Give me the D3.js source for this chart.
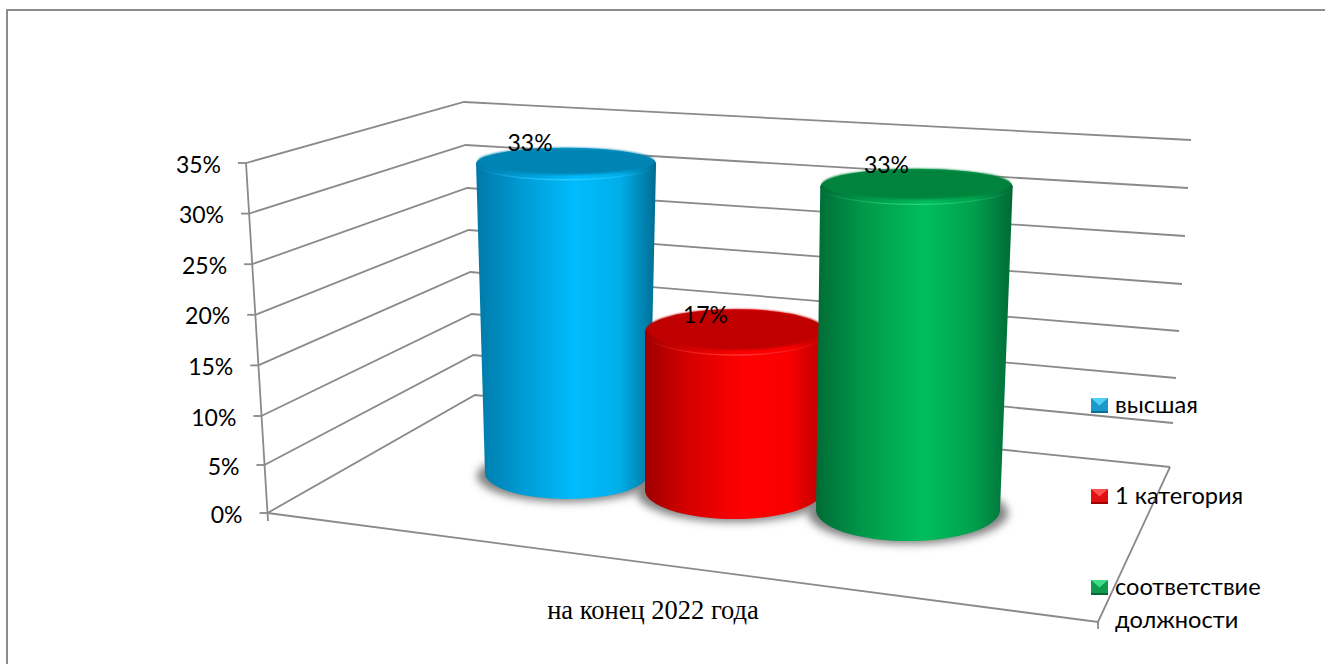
<!DOCTYPE html>
<html>
<head>
<meta charset="utf-8">
<script src="https://cdn.jsdelivr.net/npm/d3@7"></script>
<style>
  html, body { margin: 0; padding: 0; background: #fff; overflow: hidden; }
  text { fill: #000; }
  .sans { font-family: "Lato", "Noto Sans", sans-serif; }
</style>
</head>
<body>
<script>
// data
const categories = ["на конец 2022 года"]
const seriesNames = [["высшая"], ["1 категория"], ["соответствие", "должности"]]
const seriesValues = [33, 17, 33]
const tickValues = [0, 5, 10, 15, 20, 25, 30, 35]
const axisMax = 35

// colours per series
const capColors = ["#0084b4", "#c00000", "#00843c"]
const rimColors = ["#30d0ff", "#ff4040", "#30d880"]
const bodyStops = [
  ["#0079a8", "#009ad2", "#00bcff", "#00aee8", "#006d94"],
  ["#a00000", "#d80000", "#ff0000", "#f80000", "#b80000"],
  ["#006c36", "#009a4a", "#00be5c", "#00a04e", "#006a36"]
]
const stopOffsets = [0, 0.25, 0.55, 0.8, 1]
const markerColors = [
  ["#1b9ac9", "#4fd0f5", "#0b6f96"],
  ["#e01010", "#ff5050", "#9c0000"],
  ["#0f9a50", "#3fdc88", "#06663a"]
]

const width = 1325, height = 664

const svg = d3.select("body").append("svg")
  .attr("width", width)
  .attr("height", height)
  .style("display", "block")

const defs = svg.append("defs")

// soft edges for shadows and caps
defs.append("filter").attr("id", "shadowBlur")
  .attr("x", "-20%").attr("y", "-40%").attr("width", "140%").attr("height", "180%")
  .append("feGaussianBlur").attr("stdDeviation", 4)
defs.append("filter").attr("id", "capBlur")
  .attr("x", "-5%").attr("y", "-10%").attr("width", "110%").attr("height", "120%")
  .append("feGaussianBlur").attr("stdDeviation", 0.9)

// outer frame, only left and top are on the picture
svg.append("path")
  .attr("d", d3.line()([[7, height], [7, 10], [width, 10]]))
  .attr("fill", "none")
  .attr("stroke", "#8c8c8c")
  .attr("stroke-width", 2)

// the three vertical edges of the box, value -> position
const frontX = d3.scaleLinear().domain([0, axisMax]).range([267.5, 246])
const frontY = d3.scaleLinear().domain([0, 5, 10, axisMax]).range([513, 465, 416, 163])
const backLeftX = d3.scaleLinear().domain([0, axisMax]).range([475, 464])
const backLeftY = d3.scaleLinear().domain(tickValues).range([395, 355, 314, 272, 230, 188, 145, 102])
const backRightX = d3.scaleLinear().domain([0, axisMax]).range([1170, 1191])
const backRightY = d3.scaleLinear().domain(tickValues).range([467, 423, 378, 331, 284, 236, 188, 140])

const axisColor = "#8a8a8a"
const line = d3.line()
const walls = svg.append("g")
  .attr("fill", "none")
  .attr("stroke", axisColor)
  .attr("stroke-width", 1.8)

// walls gridlines
walls.selectAll(".grid")
  .data(tickValues)
  .join("path")
  .attr("class", "grid")
  .attr("d", (d) => line([
    [frontX(d), frontY(d)],
    [backLeftX(d), backLeftY(d)],
    [backRightX(d), backRightY(d)]
  ]))

// value axis with its ticks
walls.append("path")
  .attr("d", line([
    [frontX(axisMax), frontY(axisMax)],
    [frontX(0), frontY(0)],
    [frontX(0) + 0.5, frontY(0) + 8]
  ]))
walls.selectAll(".tick")
  .data(tickValues)
  .join("path")
  .attr("class", "tick")
  .attr("d", (d) => line([[frontX(d) - 8, frontY(d)], [frontX(d), frontY(d)]]))

// floor
const floorFront = [1098, 622]
walls.append("path")
  .attr("d", line([
    [frontX(0), frontY(0)],
    floorFront,
    [backRightX(0), backRightY(0)]
  ]))
walls.append("path")
  .attr("d", line([floorFront, [floorFront[0], floorFront[1] + 7]]))

// value labels
svg.append("g")
  .selectAll("text")
  .data(tickValues)
  .join("text")
  .attr("class", "sans")
  .attr("x", (d) => frontX(d) - 25)
  .attr("y", (d) => frontY(d) + 9.5)
  .attr("text-anchor", "end")
  .attr("font-size", 23)
  .text((d) => `${d}%`)

// category label
svg.append("text")
  .attr("x", 653)
  .attr("y", 619)
  .attr("text-anchor", "middle")
  .attr("font-family", "'Liberation Serif', serif")
  .attr("font-size", 26.5)
  .text(categories[0])

// cylinders: each slot sits deeper or nearer, so each has its own scales
const slots = [0, 1, 2]
const slotScale = (range) => d3.scaleLinear().domain(slots).range(range)
const baseCx = slotScale([567, 734, 908])
const topCx = slotScale([566, 737, 917])
const baseW = slotScale([164, 178, 184])
const topW = slotScale([181, 184, 193])
const baseY = slotScale([473, 490, 510])
const topY = slotScale([145, 165, 167])
const baseRy = slotScale([26, 29, 31])
const topRy = slotScale([15.4, 16.6, 17])
const labelDx = slotScale([-36, -30, -30])
const labelDy = slotScale([-13, -9, -14])

const geometry = seriesValues.map((v, i) => {
  const at = (a, b) => d3.scaleLinear().domain([0, axisMax]).range([a(i), b(i)])(v)
  return {
    i,
    v,
    cx: at(baseCx, topCx),
    cy: at(baseY, topY),
    rx: at(baseW, topW) / 2,
    ry: at(baseRy, topRy),
    bx: baseCx(i),
    by: baseY(i),
    brx: baseW(i) / 2,
    bry: baseRy(i)
  }
})

// body gradients, and a rim light that fades out to the sides
seriesValues.forEach((_v, i) => {
  const gradient = defs.append("linearGradient")
    .attr("id", `body${i}`)
    .attr("x1", 0).attr("x2", 1).attr("y1", 0).attr("y2", 0)
  gradient.selectAll("stop")
    .data(bodyStops[i])
    .join("stop")
    .attr("offset", (_d, k) => stopOffsets[k])
    .attr("stop-color", (d) => d)

  const rim = defs.append("linearGradient")
    .attr("id", `rim${i}`)
    .attr("x1", 0).attr("x2", 1).attr("y1", 0).attr("y2", 0)
  rim.selectAll("stop")
    .data([0, 0.9, 0])
    .join("stop")
    .attr("offset", (_d, k) => k / 2)
    .attr("stop-color", rimColors[i])
    .attr("stop-opacity", (d) => d)
})

// shadows go below all the bodies
svg.append("g")
  .selectAll("ellipse")
  .data(geometry)
  .join("ellipse")
  .attr("cx", (d) => d.bx)
  .attr("cy", (d) => d.by + 3)
  .attr("rx", (d) => d.brx + 8)
  .attr("ry", (d) => d.bry)
  .attr("fill", "#808080")
  .attr("filter", "url(#shadowBlur)")

const bars = svg.append("g")
  .selectAll("g")
  .data(geometry)
  .join("g")

// side
bars.append("path")
  .attr("d", (d) => `M${d.cx - d.rx},${d.cy}`
    + `L${d.bx - d.brx},${d.by}`
    + `A${d.brx},${d.bry} 0 0 0 ${d.bx + d.brx},${d.by}`
    + `L${d.cx + d.rx},${d.cy}Z`)
  .attr("fill", (d) => `url(#body${d.i})`)

// top: bevel ring, light front edge, dark centre
bars.append("ellipse")
  .attr("cx", (d) => d.cx)
  .attr("cy", (d) => d.cy)
  .attr("rx", (d) => d.rx)
  .attr("ry", (d) => d.ry)
  .attr("fill", (d) => `url(#body${d.i})`)
bars.append("path")
  .attr("d", (d) => `M${d.cx - d.rx},${d.cy}`
    + `A${d.rx},${d.ry} 0 0 0 ${d.cx + d.rx},${d.cy}`)
  .attr("fill", "none")
  .attr("stroke", (d) => `url(#rim${d.i})`)
  .attr("stroke-width", 1.4)
bars.append("ellipse")
  .attr("cx", (d) => d.cx)
  .attr("cy", (d) => d.cy - 2.5)
  .attr("rx", (d) => d.rx - 2)
  .attr("ry", (d) => d.ry - 2.5)
  .attr("fill", (d) => capColors[d.i])
  .attr("filter", "url(#capBlur)")

// data labels
svg.append("g")
  .selectAll("text")
  .data(geometry)
  .join("text")
  .attr("class", "sans")
  .attr("x", (d) => d.cx + labelDx(d.i))
  .attr("y", (d) => d.cy + labelDy(d.i))
  .attr("text-anchor", "middle")
  .attr("font-size", 23)
  .text((d) => `${d.v}%`)

// legend
const legendY = slotScale([413, 504, 595])
const legend = svg.append("g")
  .selectAll("g")
  .data(seriesNames)
  .join("g")
  .attr("transform", (_d, i) => `translate(1091,${legendY(i)})`)

const mw = 17, mh = 15
legend.append("rect")
  .attr("y", -mh)
  .attr("width", mw)
  .attr("height", mh)
  .attr("fill", (_d, i) => markerColors[i][0])
legend.append("path")
  .attr("d", line([[0, -mh], [mw, -mh], [mw / 2, -mh / 2]]) + "Z")
  .attr("fill", (_d, i) => markerColors[i][1])
legend.append("path")
  .attr("d", line([[0, 0], [mw, 0], [mw, -2], [0, -2]]) + "Z")
  .attr("fill", (_d, i) => markerColors[i][2])

legend.selectAll("text")
  .data((d) => d)
  .join("text")
  .attr("class", "sans")
  .attr("x", 24)
  .attr("y", (_d, k) => k * 33)
  .attr("font-size", 23.6)
  .text((d) => d)
</script>
</body>
</html>
